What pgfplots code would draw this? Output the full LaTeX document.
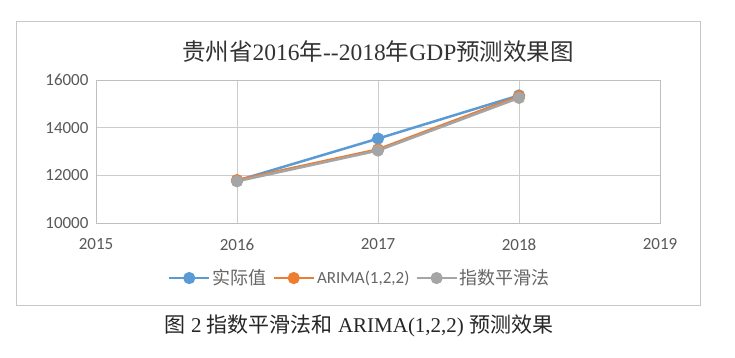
\documentclass[border=0pt]{standalone}
\usepackage{fontspec}
\usepackage{pgfplots}
\pgfplotsset{compat=1.18}
\setmainfont{Carlito}
\newfontfamily\cjk{Noto Sans CJK SC}
\newfontfamily\serif{Liberation Serif}
\definecolor{cblue}{HTML}{5B9BD5}
\definecolor{corange}{HTML}{ED7D31}
\definecolor{cgray}{HTML}{A5A5A5}
\begin{document}
\begin{tikzpicture}[x=1pt,y=1pt]
\useasboundingbox (0,0) rectangle (735,358);
\fill[white] (0,0) rectangle (735,358);
\draw[black!22, line width=1pt] (16,52) rectangle (700,336);
\node[font=\fontsize{23.5}{23.5}\selectfont, text=black!80, inner sep=0pt] at (378,306)
  {{\cjk 贵州省}{\serif 2016}{\cjk 年}{\serif -{}-2018}{\cjk 年}{\serif GDP}{\cjk 预测效果图}};
\node[font=\fontsize{21}{21}\selectfont, text=black!85, inner sep=0pt] at (359,32)
  {{\cjk 图}{\serif\ 2 }{\cjk 指数平滑法和}{\serif\ ARIMA(1,2,2) }{\cjk 预测效果}};
\begin{axis}[
  at={(96pt,135pt)}, anchor=south west,
  scale only axis, width=564pt, height=143pt,
  xmin=2015, xmax=2019, ymin=10000, ymax=16000,
  xtick={2015,2016,2017,2018,2019},
  ytick={10000,12000,14000,16000},
  scaled ticks=false,
  grid=major,
  major grid style={color=black!20, line width=0.8pt},
  axis line style={black!25, line width=0.8pt},
  major tick length=0pt,
  /pgf/number format/1000 sep={},
  /pgf/number format/assume math mode=true,
  tick label style={font=\fontsize{17}{17}\selectfont, text=black!65},
  xticklabel style={yshift=-12pt},
  yticklabel style={xshift=-4pt},
  legend columns=3,
  legend style={at={(0.468,-0.385)}, anchor=center, draw=none, fill=none,
    font=\fontsize{17}{17}\selectfont, text=black!60,
    /tikz/every even column/.append style={column sep=4pt}},
  legend image code/.code={\draw[mark repeat=2,mark phase=2] plot coordinates {(0pt,0pt)(20pt,0pt)(40pt,0pt)};},
  every axis plot/.append style={line width=2.5pt, mark=*, mark size=4.8pt, mark options={solid}},
]
\addplot[color=cblue, mark options={fill=cblue, draw=cblue}] coordinates {(2016,11777) (2017,13541) (2018,15353)};
\addlegendentry{{\cjk\fontsize{18}{18}\selectfont 实际值}}
\addplot[color=corange, mark options={fill=corange, draw=corange}] coordinates {(2016,11800) (2017,13090) (2018,15320)};
\addlegendentry{ARIMA(1,2,2)}
\addplot[color=cgray, mark options={fill=cgray, draw=cgray}] coordinates {(2016,11750) (2017,13040) (2018,15250)};
\addlegendentry{{\cjk\fontsize{18}{18}\selectfont 指数平滑法}}
\end{axis}
\end{tikzpicture}
\end{document}
